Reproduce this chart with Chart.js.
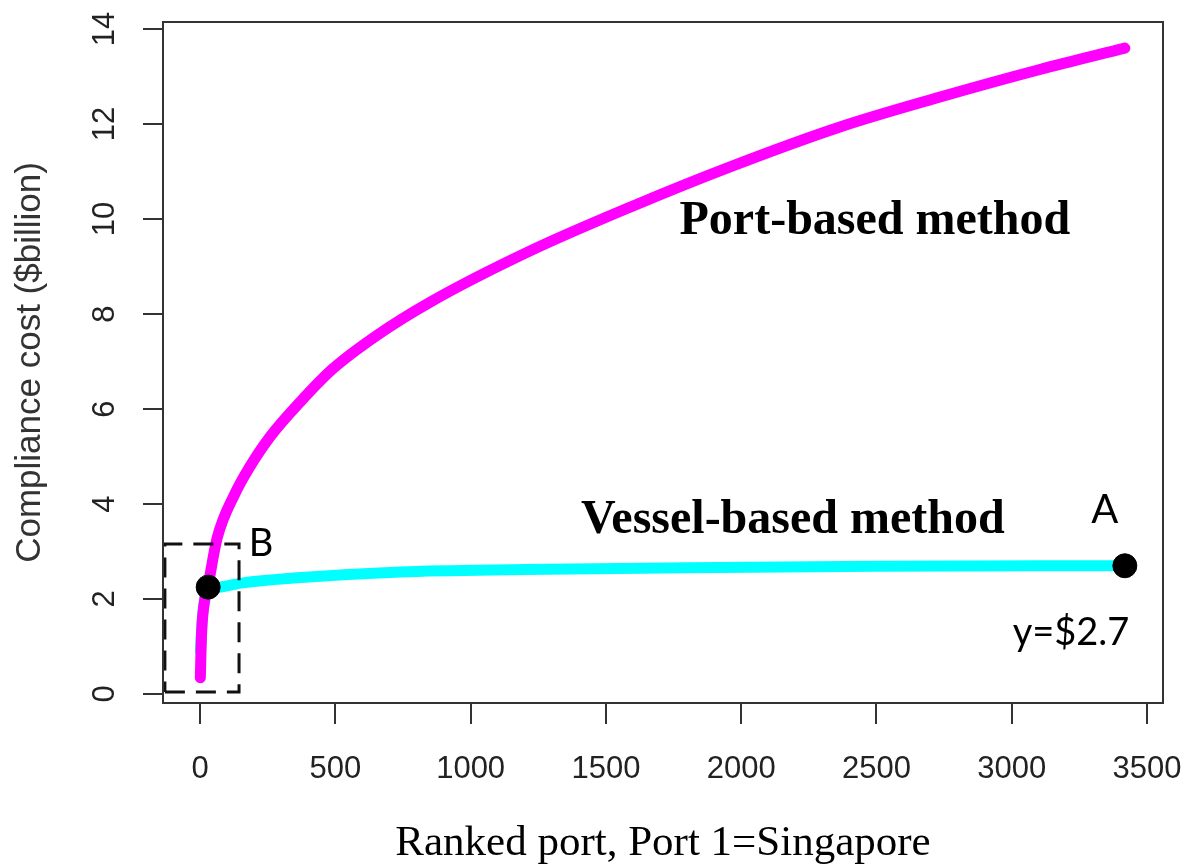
<!DOCTYPE html>
<html>
<head>
<meta charset="utf-8">
<script src="https://cdn.jsdelivr.net/npm/chart.js@4/dist/chart.umd.min.js"></script>
<style>
  html, body { margin: 0; padding: 0; background: #fff; }
  canvas { display: block; }
</style>
</head>
<body>
<canvas id="myChart" width="1186" height="865"></canvas>
<script>
// port-based curve (ranked port -> $billion)
const portX = [1, 5, 15, 30, 63, 129, 179, 259, 370, 491, 653, 850, 1220, 1589, 1959, 2365, 2735, 3104, 3418];
const portY = [0.34, 1.2, 1.9, 2.3, 3.28, 4.22, 4.74, 5.42, 6.15, 6.85, 7.55, 8.25, 9.33, 10.25, 11.1, 11.94, 12.57, 13.15, 13.6];

// vessel-based curve
const vesselX = [1, 10, 30, 74, 159, 344, 739, 1200, 1800, 2500, 3418];
const vesselY = [0.9, 1.7, 2.15, 2.25, 2.34, 2.44, 2.57, 2.62, 2.66, 2.69, 2.70];

// marked points A and B
const markX = [3418, 30];
const markY = [2.7, 2.25];

// dashed zoom box around B
const boxX = [-130, 144, 144, -130, -130];
const boxY = [0.04, 0.04, 3.16, 3.16, 0.04];

const xTicks = [0, 500, 1000, 1500, 2000, 2500, 3000, 3500];
const yTicks = [0, 2, 4, 6, 8, 10, 12, 14];

const notes = [
    { text: 'Port-based method', x: 2494, y: 9.94, font: 'bold 48px "Liberation Serif", "Times New Roman", serif' },
    { text: 'Vessel-based method', x: 2191, y: 3.66, font: 'bold 48px "Liberation Serif", "Times New Roman", serif' },
    { text: 'A', x: 3344, y: 3.87, font: '40px Lato, "Open Sans", sans-serif' },
    { text: 'B', x: 225, y: 3.16, font: '38px Lato, "Open Sans", sans-serif' },
    { text: 'y=$2.7', x: 3219, y: 1.28, font: '38px Lato, "Open Sans", sans-serif' }
];

const toPts = (xs, ys) => xs.map((x, i) => ({ x: x, y: ys[i] }));

const framePlugin = {
    id: 'frame',
    afterDatasetsDraw(chart) {
        const { ctx, chartArea: a, scales } = chart;
        ctx.save();
        ctx.strokeStyle = '#333';
        ctx.lineWidth = 2;
        ctx.strokeRect(a.left, a.top, a.right - a.left, a.bottom - a.top);
        ctx.fillStyle = '#000';
        ctx.textAlign = 'center';
        ctx.textBaseline = 'middle';
        notes.forEach(n => {
            ctx.font = n.font;
            ctx.fillText(n.text, scales.x.getPixelForValue(n.x), scales.y.getPixelForValue(n.y));
        });
        ctx.restore();
    }
};

const ctx = document.getElementById('myChart').getContext('2d');
new Chart(ctx, {
    type: 'scatter',
    data: {
        datasets: [
            {
                label: 'Vessel-based method',
                data: toPts(vesselX, vesselY),
                showLine: true,
                borderColor: '#00ffff',
                borderWidth: 11,
                borderCapStyle: 'round',
                pointRadius: 0,
                cubicInterpolationMode: 'monotone',
                order: 3
            },
            {
                label: 'Port-based method',
                data: toPts(portX, portY),
                showLine: true,
                borderColor: '#ff00ff',
                borderWidth: 11,
                borderCapStyle: 'round',
                pointRadius: 0,
                cubicInterpolationMode: 'monotone',
                order: 2
            },
            {
                label: 'A/B',
                data: toPts(markX, markY),
                pointRadius: 12,
                backgroundColor: '#000',
                borderColor: '#000',
                order: 1
            },
            {
                label: 'box',
                data: toPts(boxX, boxY),
                showLine: true,
                borderColor: '#111',
                borderWidth: 3,
                borderDash: [20, 11],
                pointRadius: 0,
                clip: false,
                order: 0
            }
        ]
    },
    options: {
        responsive: false,
        animation: false,
        layout: { padding: { top: 22, right: 23, left: 0, bottom: 0 } },
        plugins: {
            legend: { display: false },
            tooltip: { enabled: false }
        },
        scales: {
            x: {
                type: 'linear',
                min: -137,
                max: 3559,
                afterBuildTicks: s => { s.ticks = xTicks.map(v => ({ value: v })); },
                afterFit: s => { s.height = 162; s.paddingLeft = 0; s.paddingRight = 0; },
                grid: { drawOnChartArea: false, tickLength: 21, color: '#333', lineWidth: 2 },
                border: { display: false },
                ticks: {
                    padding: 27,
                    color: '#222',
                    maxRotation: 0,
                    callback: v => String(v),
                    font: { family: '"Liberation Sans", Arial, sans-serif', size: 31 }
                },
                title: {
                    display: true,
                    text: 'Ranked port, Port 1=Singapore',
                    color: '#000',
                    padding: { top: 0, bottom: 0 },
                    font: { family: '"Liberation Serif", "Times New Roman", serif', size: 43, lineHeight: 1 }
                }
            },
            y: {
                type: 'linear',
                min: -0.19,
                max: 14.15,
                afterBuildTicks: s => { s.ticks = yTicks.map(v => ({ value: v })); },
                afterFit: s => { s.width = 163; s.paddingTop = 0; s.paddingBottom = 0; },
                grid: { drawOnChartArea: false, tickLength: 20, color: '#333', lineWidth: 2 },
                border: { display: false },
                ticks: {
                    padding: 20,
                    color: '#222',
                    minRotation: 90,
                    maxRotation: 90,
                    crossAlign: 'center',
                    callback: v => String(v),
                    font: { family: '"Liberation Sans", Arial, sans-serif', size: 31 }
                },
                title: {
                    display: true,
                    text: 'Compliance cost ($billion)',
                    color: '#333',
                    padding: { top: 9, bottom: 0 },
                    font: { family: '"Liberation Sans", Arial, sans-serif', size: 35 }
                }
            }
        }
    },
    plugins: [framePlugin]
});
</script>
</body>
</html>
